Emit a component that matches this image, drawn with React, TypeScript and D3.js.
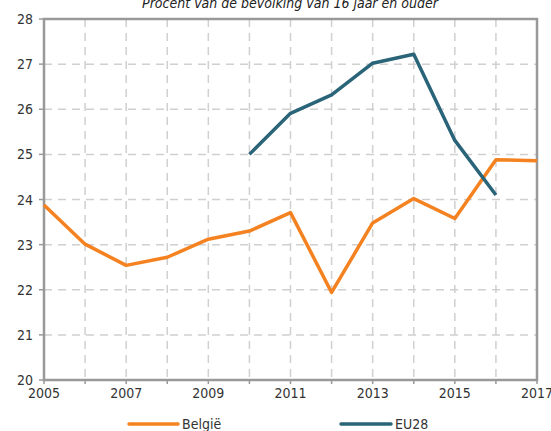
import React from "react";
import * as d3 from "d3";

const years = [2005, 2006, 2007, 2008, 2009, 2010, 2011, 2012, 2013, 2014, 2015, 2016, 2017];
const belgie = [23.88, 23.01, 22.54, 22.72, 23.12, 23.3, 23.71, 21.94, 23.48, 24.02, 23.58, 24.88, 24.86];
const euYears = [2010, 2011, 2012, 2013, 2014, 2015, 2016];
const eu28 = [25.0, 25.91, 26.32, 27.02, 27.22, 25.31, 24.1];
const yTicks = [20, 21, 22, 23, 24, 25, 26, 27, 28];
const xLabels = [2005, 2007, 2009, 2011, 2013, 2015, 2017];
const title = "Procent van de bevolking van 16 jaar en ouder";

export default function App() {
  const W = 551, H = 431;
  const x = d3.scaleLinear().domain([2005, 2017]).range([44, 537]);
  const y = d3.scaleLinear().domain([20, 28]).range([380, 19]);
  const line = d3.line<[number, number]>().x(d => x(d[0])).y(d => y(d[1]));
  const bePts = years.map((yr, i) => [yr, belgie[i]] as [number, number]);
  const euPts = euYears.map((yr, i) => [yr, eu28[i]] as [number, number]);
  const font = "'DejaVu Sans Condensed', 'DejaVu Sans', sans-serif";
  const orange = "#F58220";
  const teal = "#2A6478";
  const axisCol = "#999999";
  return (
    <svg width={W} height={H} style={{ position: "absolute", left: 0, top: 0 }} fontFamily={font}>
      <text x={290} y={8} textAnchor="middle" fontStyle="italic" fontSize={14} fill="#222">{title}</text>
      {yTicks.slice(1, -1).map(t => (
        <line key={"gy" + t} x1={x(2005)} x2={x(2017)} y1={y(t)} y2={y(t)} stroke="#d0d0d0" strokeWidth={1.5} strokeDasharray="8,6" />
      ))}
      {years.slice(1, -1).map(t => (
        <line key={"gx" + t} x1={x(t)} x2={x(t)} y1={y(28)} y2={y(20)} stroke="#d0d0d0" strokeWidth={1.5} strokeDasharray="8,6" />
      ))}
      <rect x={x(2005)} y={y(28)} width={x(2017) - x(2005)} height={y(20) - y(28)} fill="none" stroke={axisCol} strokeWidth={2.5} />
      {yTicks.map(t => (
        <g key={"ty" + t}>
          <line x1={x(2005) - 5} x2={x(2005)} y1={y(t)} y2={y(t)} stroke={axisCol} strokeWidth={1.5} />
          <text x={33} y={y(t) + 5} textAnchor="end" fontSize={14} fill="#333">{t}</text>
        </g>
      ))}
      {years.map(t => (
        <line key={"tx" + t} x1={x(t)} x2={x(t)} y1={y(20)} y2={y(20) + 4} stroke={axisCol} strokeWidth={1.5} />
      ))}
      {xLabels.map(t => (
        <text key={"lx" + t} x={x(t)} y={398} textAnchor="middle" fontSize={14} fill="#333">{t}</text>
      ))}
      <path d={line(bePts) || ""} fill="none" stroke={orange} strokeWidth={3.5} strokeLinejoin="round" />
      <path d={line(euPts) || ""} fill="none" stroke={teal} strokeWidth={3.5} strokeLinejoin="round" />
      <line x1={129} x2={178} y1={424} y2={424} stroke={orange} strokeWidth={3.5} strokeLinecap="round" />
      <text x={182} y={429} fontSize={14} fill="#333">België</text>
      <line x1={341} x2={391} y1={424} y2={424} stroke={teal} strokeWidth={3.5} strokeLinecap="round" />
      <text x={395} y={429} fontSize={14} fill="#333">EU28</text>
    </svg>
  );
}
